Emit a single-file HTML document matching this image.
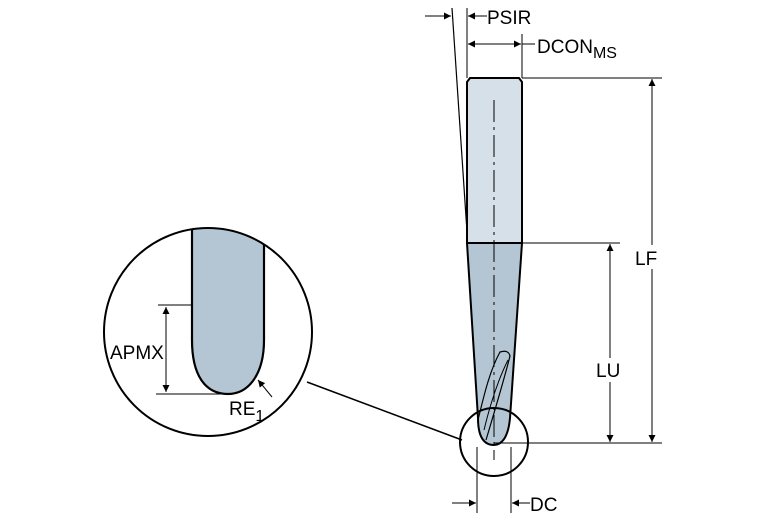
<!DOCTYPE html>
<html><head><meta charset="utf-8"><style>
html,body{margin:0;padding:0;background:#fff;}
svg{display:block;font-family:"Liberation Sans",sans-serif;}
</style></head><body>
<svg width="767" height="523" viewBox="0 0 767 523" xmlns="http://www.w3.org/2000/svg">
<defs>
<marker id="a" viewBox="0 0 10 10" refX="10" refY="5" markerWidth="9" markerHeight="7" orient="auto-start-reverse" markerUnits="userSpaceOnUse"><path d="M0,0 L10,5 L0,10 z" fill="#000"/></marker>
</defs>
<g stroke="#000" fill="none">
<path d="M192,229 A104,104 0 0 1 264,244 L264,340 C264,375 248,394 228,394 C205,394 192,375 192,340 Z" fill="#b4c6d3" stroke="none"/>
<path d="M192,229 L192,340 C192,375 205,394 228,394 C248,394 264,375 264,340 L264,244" stroke-width="2.2"/>
<circle cx="208" cy="332" r="104" stroke-width="2"/>
<line x1="307" y1="382" x2="462" y2="440" stroke-width="1.6"/>
<line x1="158" y1="305" x2="191" y2="305" stroke-width="1"/>
<line x1="156" y1="394" x2="228" y2="394" stroke-width="1"/>
<line x1="166" y1="307" x2="166" y2="392" stroke-width="1" marker-start="url(#a)" marker-end="url(#a)"/>
<line x1="272" y1="397" x2="258" y2="380" stroke-width="1" marker-end="url(#a)"/>
<path d="M467,82 L470,78 L519,78 L522,82 L522,243 L467,243 Z" fill="#d6e0e8" stroke-width="2"/>
<path d="M467,243 L522,243 L510,418 C508,440 500,445 494,445 C486,445 478,440 478,418 Z" fill="#b4c6d3" stroke-width="2"/>
<path d="M478,420 C484,395 490,370 500,352 C506,350 509,352 510,356 C504,380 495,410 486,440" stroke-width="1.2"/>
<path d="M484,430 C490,405 498,380 508,360" stroke-width="1"/>
<line x1="494" y1="100" x2="494" y2="460" stroke-width="1" stroke-dasharray="22,5,3,5"/>
<circle cx="494" cy="442" r="34" stroke-width="2"/>
<line x1="467" y1="8" x2="467" y2="78" stroke-width="1"/>
<line x1="452" y1="8" x2="467" y2="232" stroke-width="1.2"/>
<line x1="425" y1="16" x2="451" y2="16" stroke-width="1" marker-end="url(#a)"/>
<line x1="487" y1="16" x2="468" y2="16" stroke-width="1" marker-end="url(#a)"/>
<line x1="522" y1="34" x2="522" y2="78" stroke-width="1"/>
<line x1="468" y1="44" x2="521" y2="44" stroke-width="1" marker-start="url(#a)" marker-end="url(#a)"/>
<line x1="522" y1="44" x2="535" y2="44" stroke-width="1"/>
<line x1="522" y1="78" x2="662" y2="78" stroke-width="1"/>
<line x1="522" y1="243" x2="620" y2="243" stroke-width="1"/>
<line x1="494" y1="443" x2="662" y2="443" stroke-width="1"/>
<line x1="652" y1="79" x2="652" y2="442" stroke-width="1" marker-start="url(#a)" marker-end="url(#a)"/>
<line x1="610" y1="244" x2="610" y2="442" stroke-width="1" marker-start="url(#a)" marker-end="url(#a)"/>
<line x1="477" y1="447" x2="477" y2="513" stroke-width="1"/>
<line x1="511" y1="447" x2="511" y2="513" stroke-width="1"/>
<line x1="452" y1="503" x2="476" y2="503" stroke-width="1" marker-end="url(#a)"/>
<line x1="530" y1="503" x2="512" y2="503" stroke-width="1" marker-end="url(#a)"/>
</g>
<rect x="632" y="245" width="30" height="24" fill="#fff"/>
<rect x="592" y="358" width="34" height="24" fill="#fff"/>
<g font-size="19" fill="#000">
<text x="487" y="24">PSIR</text>
<text x="537" y="53">DCON<tspan font-size="16" dy="5">MS</tspan></text>
<text x="635" y="265">LF</text>
<text x="596" y="377">LU</text>
<text x="530" y="511">DC</text>
<text x="110" y="359">APMX</text>
<text x="229" y="415">RE<tspan font-size="16" dy="6">1</tspan></text>
</g>
</svg>
</body></html>
